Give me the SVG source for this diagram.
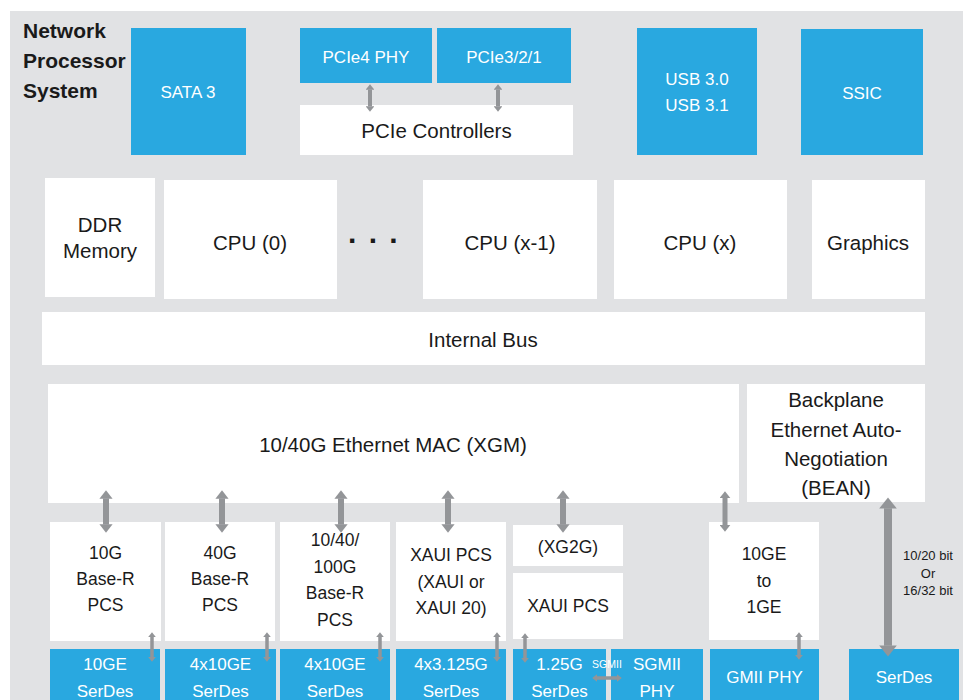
<svg xmlns="http://www.w3.org/2000/svg" width="963" height="700" viewBox="0 0 963 700">
<defs>
<style>
.bg{fill:#e1e2e4}
.w{fill:#ffffff}
.b{fill:#29a8e0}
text{font-family:"Liberation Sans",Arial,sans-serif}
.t{fill:#1a1a1a;text-anchor:middle;font-size:20.5px}
.s{fill:#1a1a1a;text-anchor:middle;font-size:17.5px}
.bt{fill:#ffffff;text-anchor:middle;font-size:17px}
.tiny{fill:#1a1a1a;text-anchor:middle;font-size:13px}
.conn line{stroke:#939598;marker-start:url(#ah);marker-end:url(#ah)}
</style>
<marker id="ah" viewBox="0 0 1.4 2.2" refX="0.05" refY="1.1" markerWidth="1.4" markerHeight="2.2" orient="auto-start-reverse" markerUnits="strokeWidth"><path d="M0,0 L1.4,1.1 L0,2.2 z" fill="#939598"/></marker>
</defs>
<rect class="bg" x="10" y="11" width="953" height="689"/>
<g id="title"><text x="23" font-weight="bold" font-size="21" fill="#1a1a1a"><tspan x="23" y="38">Network</tspan><tspan x="23" y="68">Processor</tspan><tspan x="23" y="98">System</tspan></text></g>

<g id="sata3"><rect class="b" x="131" y="28" width="115" height="127"/><text class="bt" x="188" y="98">SATA 3</text></g>
<g id="pcie4phy"><rect class="b" x="300" y="28" width="132" height="55"/><text class="bt" x="366" y="63">PCIe4 PHY</text></g>
<g id="pcie321"><rect class="b" x="437" y="28" width="134" height="55"/><text class="bt" x="504" y="63">PCIe3/2/1</text></g>
<g id="pciectrl"><rect class="w" x="300" y="105" width="273" height="50"/><text class="t" x="436.5" y="138">PCIe Controllers</text></g>
<g id="usb"><rect class="b" x="637" y="28" width="120" height="127"/><text class="bt"><tspan x="697" y="85">USB 3.0</tspan><tspan x="697" y="111">USB 3.1</tspan></text></g>
<g id="ssic"><rect class="b" x="801" y="29" width="122" height="126"/><text class="bt" x="862" y="99">SSIC</text></g>

<g id="ddr"><rect class="w" x="45" y="178" width="110" height="119"/><text class="t"><tspan x="100" y="232">DDR</tspan><tspan x="100" y="258">Memory</tspan></text></g>
<g id="cpu0"><rect class="w" x="164" y="180" width="173" height="119"/><text class="t" x="250" y="250">CPU (0)</text></g>
<g id="dots"><text x="348" y="243" font-size="30" font-weight="bold" letter-spacing="2" fill="#1a1a1a">. . .</text></g>
<g id="cpux1"><rect class="w" x="423" y="180" width="174" height="119"/><text class="t" x="510" y="250">CPU (x-1)</text></g>
<g id="cpux"><rect class="w" x="614" y="180" width="173" height="119"/><text class="t" x="700" y="250">CPU (x)</text></g>
<g id="graphics"><rect class="w" x="812" y="180" width="113" height="119"/><text class="t" x="868" y="250">Graphics</text></g>

<g id="internalbus"><rect class="w" x="42" y="312" width="883" height="53"/><text class="t" x="483" y="347">Internal Bus</text></g>

<g id="mac"><rect class="w" x="48" y="384" width="691" height="119"/><text class="t" x="393" y="452">10/40G Ethernet MAC (XGM)</text></g>
<g id="bean"><rect class="w" x="747" y="384" width="178" height="118"/><text class="t"><tspan x="836" y="407">Backplane</tspan><tspan x="836" y="437">Ethernet Auto-</tspan><tspan x="836" y="466">Negotiation</tspan><tspan x="836" y="495">(BEAN)</tspan></text></g>

<g id="pcs10g"><rect class="w" x="50" y="522" width="111" height="119"/><text class="s"><tspan x="105.5" y="559">10G</tspan><tspan x="105.5" y="585">Base-R</tspan><tspan x="105.5" y="611">PCS</tspan></text></g>
<g id="pcs40g"><rect class="w" x="165" y="522" width="110" height="119"/><text class="s"><tspan x="220" y="559">40G</tspan><tspan x="220" y="585">Base-R</tspan><tspan x="220" y="611">PCS</tspan></text></g>
<g id="pcs100g"><rect class="w" x="280" y="522" width="110" height="119"/><text class="s"><tspan x="335" y="546">10/40/</tspan><tspan x="335" y="572.5">100G</tspan><tspan x="335" y="599">Base-R</tspan><tspan x="335" y="626">PCS</tspan></text></g>
<g id="xauipcs"><rect class="w" x="396" y="522" width="110" height="119"/><text class="s"><tspan x="451" y="561">XAUI PCS</tspan><tspan x="451" y="587.5">(XAUI or</tspan><tspan x="451" y="614">XAUI 20)</tspan></text></g>
<g id="xg2g"><rect class="w" x="513" y="525" width="110" height="41"/><text class="s" x="568" y="553">(XG2G)</text></g>
<g id="xauipcs2"><rect class="w" x="513" y="573" width="110" height="66"/><text class="s" x="568" y="612">XAUI PCS</text></g>
<g id="ge10to1"><rect class="w" x="709" y="522" width="110" height="118"/><text class="s"><tspan x="764" y="560">10GE</tspan><tspan x="764" y="587">to</tspan><tspan x="764" y="613">1GE</tspan></text></g>

<g id="serdes10ge"><rect class="b" x="50" y="649" width="110" height="51"/><text class="bt"><tspan x="105" y="670">10GE</tspan><tspan x="105" y="697">SerDes</tspan></text></g>
<g id="serdes4x10a"><rect class="b" x="165" y="649" width="111" height="51"/><text class="bt"><tspan x="220.5" y="670">4x10GE</tspan><tspan x="220.5" y="697">SerDes</tspan></text></g>
<g id="serdes4x10b"><rect class="b" x="280" y="649" width="110" height="51"/><text class="bt"><tspan x="335" y="670">4x10GE</tspan><tspan x="335" y="697">SerDes</tspan></text></g>
<g id="serdes4x3"><rect class="b" x="396" y="649" width="110" height="51"/><text class="bt"><tspan x="451" y="670">4x3.125G</tspan><tspan x="451" y="697">SerDes</tspan></text></g>
<g id="serdes125"><rect class="b" x="513" y="649" width="93" height="51"/><text class="bt"><tspan x="559.5" y="670">1.25G</tspan><tspan x="559.5" y="697">SerDes</tspan></text></g>
<g id="sgmiiphy"><rect class="b" x="611" y="649" width="92" height="51"/><text class="bt"><tspan x="657" y="670">SGMII</tspan><tspan x="657" y="697">PHY</tspan></text></g>
<g id="gmiiphy"><rect class="b" x="710" y="649" width="109" height="51"/><text class="bt" x="764.5" y="683">GMII PHY</text></g>
<g id="serdes"><rect class="b" x="849" y="649" width="110" height="51"/><text class="bt" x="904" y="683">SerDes</text></g>

<g class="conn" id="connectors">
<line x1="370" y1="89.6" x2="370" y2="106.4" stroke-width="4"/>
<line x1="498" y1="89.6" x2="498" y2="106.4" stroke-width="4"/>
<line x1="106" y1="498.4" x2="106" y2="524.6" stroke-width="6"/>
<line x1="222" y1="498.4" x2="222" y2="524.6" stroke-width="6"/>
<line x1="341" y1="498.4" x2="341" y2="524.6" stroke-width="6"/>
<line x1="448" y1="498.4" x2="448" y2="524.6" stroke-width="6"/>
<line x1="563" y1="498.4" x2="563" y2="524.6" stroke-width="6"/>
<line x1="725" y1="498" x2="725" y2="525" stroke-width="5"/>
<line x1="152" y1="636.9" x2="152" y2="657.1" stroke-width="3.5"/>
<line x1="267" y1="636.9" x2="267" y2="657.1" stroke-width="3.5"/>
<line x1="380" y1="636.9" x2="380" y2="657.1" stroke-width="3.5"/>
<line x1="497" y1="636.9" x2="497" y2="657.1" stroke-width="3.5"/>
<line x1="525" y1="637.9" x2="525" y2="658.1" stroke-width="3.5"/>
<line x1="799" y1="636.9" x2="799" y2="655.1" stroke-width="3.5"/>
<line x1="596.9" y1="678" x2="617.1" y2="678" stroke-width="3.5"/>
<line x1="888" y1="508.2" x2="888" y2="645.8" stroke-width="8"/>
</g>
<g id="labels">
<text x="607" y="668" font-size="10.5" fill="#ffffff" text-anchor="middle">SGMII</text>
<text class="tiny"><tspan x="928" y="560">10/20 bit</tspan><tspan x="928" y="577.5">Or</tspan><tspan x="928" y="595">16/32 bit</tspan></text>
</g>
</svg>
